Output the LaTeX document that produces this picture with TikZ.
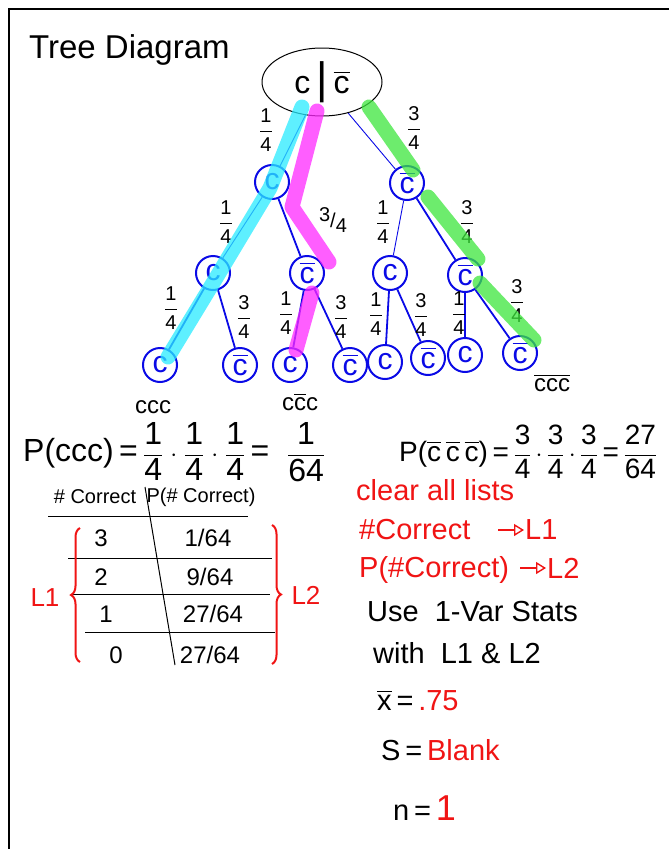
\documentclass[tikz,border=0pt]{standalone}
\usepackage{amsmath}
\usepackage{fontspec}
\setmainfont{Liberation Sans}
\usetikzlibrary{shapes.geometric,positioning,arrows.meta,decorations.pathreplacing}

\definecolor{hlcyan}{RGB}{40,235,255}
\definecolor{hlmag}{RGB}{255,40,255}
\definecolor{hlgreen}{RGB}{60,230,60}
\definecolor{penblue}{RGB}{10,10,230}
\definecolor{penred}{RGB}{240,20,20}

\newcommand{\notc}{\ensuremath{\overline{\text{c}}}}
\newcommand{\hfrac}[2]{\ensuremath{\genfrac{}{}{}{0}{\text{#1}}{\text{#2}}}}

\begin{document}
\begin{tikzpicture}[
  x=1pt, y=-1pt,
  hand/.style={font=\fontsize{#1}{#1}\selectfont, inner sep=1pt},
  leaf/.style={circle, draw=penblue, line width=2pt, minimum size=34pt, inner sep=0pt,
               text=penblue, font=\fontsize{30}{30}\selectfont},
  branch/.style={penblue, line width=1.8pt},
  twig/.style={penblue, line width=0.9pt},
  prob/.style={font=\fontsize{20}{20}\selectfont, inner sep=0pt},
  marker/.style={line width=15pt, line cap=round, line join=round, opacity=0.75},
  redarrow/.style={penred, line width=1.4pt, -{Triangle[open, length=10pt, width=12pt]}},
]
\useasboundingbox (0,0) rectangle (669,849);

% sheet edge
\draw[line width=2.5pt] (9,849) -- (9,9) -- (669,9);

\node[hand=33, anchor=west] (title) at (28,50) {Tree Diagram};

% root of the tree
\node[ellipse, draw, line width=1pt, minimum width=120pt, minimum height=68pt,
      font=\fontsize{32}{32}\selectfont] (root) at (322,82)
  {c\hspace{6pt}{\fontsize{44}{44}\selectfont|}\hspace{6pt}\notc};

% first question
\node[leaf] (c1) at (272,182) {c};
\node[leaf] (n1) at (407,183) {\notc};

% second question
\node[leaf] (cc) at (213,273) {c};
\node[leaf] (cn) at (307,273) {\notc};
\node[leaf] (nc) at (390,273) {c};
\node[leaf] (nn) at (465,275) {\notc};

% third question
\node[leaf] (ccc) at (160,365) {c};
\node[leaf] (ccn) at (240,365) {\notc};
\node[leaf] (cnc) at (290,365) {c};
\node[leaf] (cnn) at (350,365) {\notc};
\node[leaf] (ncc) at (385,362) {c};
\node[leaf] (ncn) at (428,358) {\notc};
\node[leaf] (nnc) at (465,355) {c};
\node[leaf] (nnn) at (520,353) {\notc};

% branches
\draw[twig] (root) -- (c1);
\draw[twig] (root) -- (n1);
\draw[twig] (c1) -- (cc);
\draw[branch] (c1) -- (cn);
\draw[twig] (n1) -- (nc);
\draw[branch] (n1) -- (nn);
\foreach \p/\a/\b in {cc/ccc/ccn, cn/cnc/cnn, nc/ncc/ncn, nn/nnc/nnn}
  {\draw[branch] (\p) -- (\a); \draw[branch] (\p) -- (\b);}

% branch probabilities
\node[prob] (p1) at (266,130) {\hfrac{1}{4}};
\node[prob] (p2) at (414,128) {\hfrac{3}{4}};
\node[prob] (p3) at (226,222) {\hfrac{1}{4}};
\node[prob] (p4) at (333,220) {\raisebox{6pt}{3}/\raisebox{-5pt}{4}};
\node[prob] (p5) at (383,222) {\hfrac{1}{4}};
\node[prob] (p6) at (467,222) {\hfrac{3}{4}};
\node[prob] (p7) at (171,308) {\hfrac{1}{4}};
\node[prob] (p8) at (244,317) {\hfrac{3}{4}};
\node[prob] (p9) at (286,313) {\hfrac{1}{4}};
\node[prob] (p10) at (341,317) {\hfrac{3}{4}};
\node[prob] (p11) at (376,314) {\hfrac{1}{4}};
\node[prob] (p12) at (421,315) {\hfrac{3}{4}};
\node[prob] (p13) at (459,313) {\hfrac{1}{4}};
\node[prob] (p14) at (517,301) {\hfrac{3}{4}};

% highlighter strokes
\draw[marker, hlcyan] (302,107) -- (270,188) -- (213,283) -- (168,357);
\draw[marker, hlmag] (317,111) -- (292,207) -- (329,262);
\draw[marker, hlmag] (312,293) -- (296,350);
\draw[marker, hlgreen] (369,107) -- (413,170);
\draw[marker, hlgreen] (428,197) -- (478,259);
\draw[marker, hlgreen] (480,283) -- (534,340);

% outcomes
\node[hand=24] (occc) at (153,407) {ccc};
\node[hand=24] (ocnc) at (300,402) {c\notc c};
\node[hand=24] (onnn) at (552,383) {\notc\notc\notc};

\node[hand=32, anchor=west] (pccc) at (22,452)
  {P(ccc)\,=\,\hfrac{1}{4}$\;\cdot\;$\hfrac{1}{4}$\;\cdot\;$\hfrac{1}{4}\,=\;\;\hfrac{1}{64}};
\node[hand=28, anchor=west] (pnnn) at (398,452)
  {P(\notc\,\notc\,\notc)\,=\,\hfrac{3}{4}$\,\cdot\,$\hfrac{3}{4}$\,\cdot\,$\hfrac{3}{4}\,=\,\hfrac{27}{64}};

% table of # correct
\node[hand=20] (hcor) at (95,497) {\# Correct};
\node[hand=20] (hpcor) at (201,497) {P(\# Correct)};
\draw[line width=1pt] (48,516) -- (248,516);
\draw[line width=1pt] (145,487) -- (175,665);
\draw[line width=1pt] (68,558) -- (272,558);
\draw[line width=1pt] (72,594) -- (270,594);
\draw[line width=1pt] (85,632) -- (275,632);
\node[hand=24] (k3) at (101,538) {3};
\node[hand=24] (q3) at (208,538) {1/64};
\node[hand=24] (k2) at (101,577) {2};
\node[hand=24] (q2) at (210,577) {9/64};
\node[hand=24] (k1) at (106,614) {1};
\node[hand=24] (q1) at (213,614) {27/64};
\node[hand=24] (k0) at (116,655) {0};
\node[hand=24] (q0) at (210,655) {27/64};
\draw[penred, line width=2pt, decorate, decoration={brace, amplitude=9pt}] (80,662) -- (80,528);
\draw[penred, line width=2pt, decorate, decoration={brace, amplitude=9pt}] (272,525) -- (272,664);
\node[hand=26, penred] (lone) at (45,598) {L1};
\node[hand=26, penred] (ltwo) at (306,595) {L2};

% calculator steps
\node[hand=29, penred, anchor=west] (clear) at (355,490) {clear all lists};
\node[hand=29, penred, anchor=west] (corr) at (358,530) {\#Correct};
\node[hand=29, penred, anchor=west] (tolone) at (524,530) {L1};
\coordinate[left=26pt of tolone.west] (aone);
\draw[redarrow] (aone) -- (tolone);
\node[hand=29, penred, anchor=west] (pcorr) at (358,570) {P(\#Correct)};
\node[hand=29, penred, anchor=west] (toltwo) at (546,568) {L2};
\coordinate[left=26pt of toltwo.west] (atwo);
\draw[redarrow] (atwo) -- (toltwo);
\node[hand=29, anchor=west] (use) at (366,612) {Use\ \ 1-Var Stats};
\node[hand=29, anchor=west] (with) at (372,653) {with\ \ L1 \& L2};
\node[hand=29, anchor=west] (xbar) at (376,700)
  {\ensuremath{\overline{\text{x}}}\,=\,\textcolor{penred}{.75}};
\node[hand=29, anchor=west] (sdev) at (380,750) {S\,=\,\textcolor{penred}{Blank}};
\node[hand=29, anchor=west] (num) at (392,808) {n\,=\,\textcolor{penred}{\fontsize{36}{36}\selectfont 1}};
\end{tikzpicture}
\end{document}
